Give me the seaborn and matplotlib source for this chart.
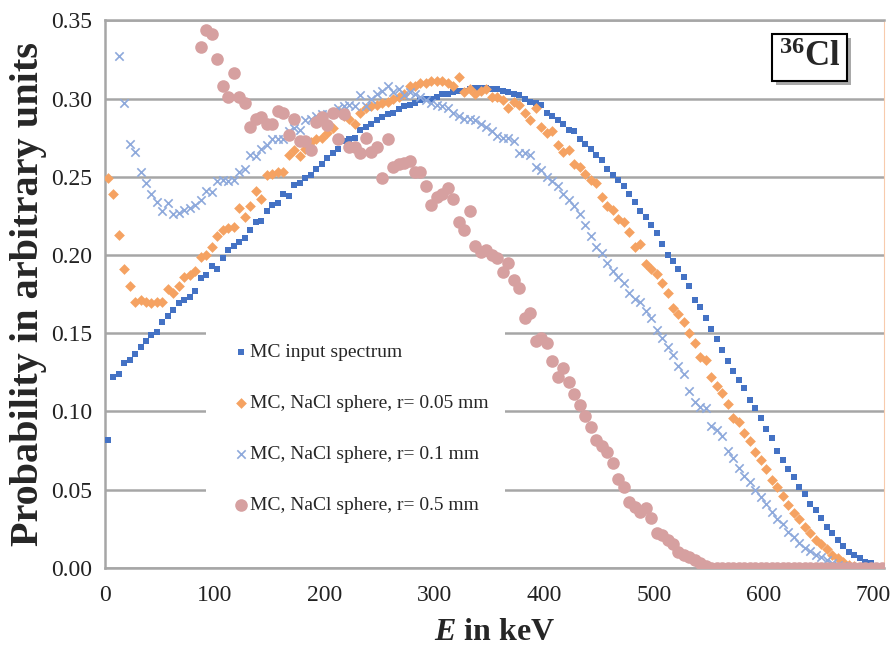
"""
36Cl beta spectrum: MC input vs. NaCl spheres of different radius
"""

# =============== IMPORTS ===============
import numpy as np
import matplotlib
matplotlib.use("Agg")
import matplotlib.pyplot as plt
import matplotlib.patheffects as pe
from matplotlib.patches import Rectangle
import seaborn as sns

nan = np.nan

# =============== DATA ===============
# bin centres in keV (5 keV bins)
energy = np.arange(2.5, 710, 5.0)

input_spectrum = [
    0.082, 0.122, 0.124, 0.131, 0.133, 0.137, 0.141, 0.145, 0.149, 0.151,
    0.157, 0.161, 0.165, 0.169, 0.171, 0.173, 0.177, 0.185, 0.187, 0.193,
    0.191, 0.198, 0.203, 0.206, 0.208, 0.211, 0.216, 0.221, 0.222, 0.228,
    0.232, 0.233, 0.239, 0.238, 0.245, 0.246, 0.249, 0.251, 0.255, 0.258,
    0.262, 0.265, 0.268, 0.273, 0.274, 0.275, 0.280, 0.282, 0.284, 0.286,
    0.288, 0.290, 0.291, 0.293, 0.295, 0.296, 0.297, 0.299, 0.300, 0.300,
    0.301, 0.303, 0.303, 0.304, 0.305, 0.305, 0.306, 0.307, 0.307, 0.307,
    0.306, 0.306, 0.305, 0.304, 0.303, 0.302, 0.300, 0.298, 0.297, 0.296,
    0.291, 0.289, 0.286, 0.284, 0.280, 0.279, 0.274, 0.271, 0.268, 0.264,
    0.261, 0.255, 0.251, 0.248, 0.244, 0.239, 0.234, 0.228, 0.224, 0.219,
    0.214, 0.207, 0.200, 0.196, 0.191, 0.186, 0.180, 0.171, 0.167, 0.160,
    0.153, 0.146, 0.139, 0.132, 0.126, 0.120, 0.115, 0.107, 0.102, 0.096,
    0.089, 0.083, 0.075, 0.069, 0.063, 0.058, 0.052, 0.047, 0.041, 0.037,
    0.032, 0.026, 0.022, 0.018, 0.014, 0.010, 0.008, 0.006, 0.004, 0.003,
    0.001, 0.000,
]

sphere_005mm = [
    0.249, 0.239, 0.213, 0.191, 0.180, 0.170, 0.171, 0.170, 0.169, 0.170,
    0.170, 0.178, 0.176, 0.180, 0.186, 0.187, 0.190, 0.199, 0.200, 0.205,
    0.212, 0.216, 0.217, 0.218, 0.230, 0.224, 0.231, 0.241, 0.236, 0.251,
    0.252, 0.253, 0.253, 0.264, 0.267, 0.263, 0.268, 0.272, 0.274, 0.275,
    0.278, 0.281, 0.292, 0.289, 0.287, 0.284, 0.291, 0.294, 0.295, 0.296,
    0.297, 0.298, 0.300, 0.301, 0.303, 0.308, 0.308, 0.310, 0.310, 0.311,
    0.311, 0.311, 0.310, 0.308, 0.314, 0.304, 0.306, 0.303, 0.305, 0.306,
    0.301, 0.301, 0.299, 0.294, 0.298, 0.296, 0.291, 0.286, 0.294, 0.282,
    0.278, 0.279, 0.270, 0.266, 0.267, 0.258, 0.256, 0.252, 0.248, 0.246,
    0.237, 0.231, 0.229, 0.223, 0.221, 0.215, 0.205, 0.207, 0.194, 0.191,
    0.188, 0.182, 0.176, 0.166, 0.162, 0.157, 0.150, 0.144, 0.135, 0.133,
    0.122, 0.116, 0.112, 0.105, 0.096, 0.093, 0.086, 0.081, 0.074, 0.069,
    0.063, 0.056, 0.052, 0.046, 0.040, 0.035, 0.031, 0.026, 0.022, 0.018,
    0.015, 0.012, 0.008, 0.006, 0.004, 0.002, 0.001, 0.000, 0.000, 0.000,
    0.000, 0.000,
]

sphere_01mm = [
    nan, nan, 0.327, 0.297, 0.271, 0.266, 0.253, 0.246, 0.239, 0.234,
    0.228, 0.233, 0.226, 0.227, 0.229, 0.230, 0.232, 0.235, 0.241, 0.240,
    0.247, 0.248, 0.247, 0.248, 0.253, 0.255, 0.264, 0.263, 0.268, 0.270,
    0.274, 0.274, 0.274, 0.279, 0.281, 0.280, 0.286, 0.287, 0.289, 0.290,
    0.290, 0.291, 0.294, 0.295, 0.296, 0.295, 0.302, 0.295, 0.300, 0.303,
    0.305, 0.308, 0.304, 0.306, 0.302, 0.304, 0.303, 0.301, 0.299, 0.297,
    0.296, 0.295, 0.294, 0.291, 0.289, 0.287, 0.287, 0.286, 0.284, 0.282,
    0.279, 0.276, 0.275, 0.275, 0.273, 0.265, 0.265, 0.264, 0.256, 0.254,
    0.250, 0.247, 0.244, 0.239, 0.235, 0.231, 0.226, 0.219, 0.212, 0.205,
    0.201, 0.195, 0.190, 0.186, 0.182, 0.176, 0.172, 0.170, 0.164, 0.160,
    0.152, 0.147, 0.141, 0.136, 0.129, 0.124, 0.113, 0.106, 0.103, 0.102,
    0.091, 0.088, 0.084, 0.075, 0.070, 0.064, 0.059, 0.055, 0.050, 0.045,
    0.041, 0.036, 0.031, 0.028, 0.023, 0.020, 0.016, 0.013, 0.011, 0.008,
    0.007, 0.005, 0.003, 0.002, 0.001, 0.000, 0.000, 0.000, 0.000, 0.000,
    0.000, 0.000,
]

sphere_05mm = [
    nan, nan, nan, nan, nan, nan, nan, nan, nan, nan,
    nan, nan, nan, nan, nan, nan, nan, 0.333, 0.344, 0.341,
    0.325, 0.308, 0.301, 0.316, 0.301, 0.297, 0.282, 0.287, 0.288, 0.284,
    0.284, 0.292, 0.291, 0.277, 0.287, 0.273, 0.273, 0.267, 0.285, 0.288,
    0.283, 0.291, 0.274, 0.290, 0.269, 0.269, 0.265, 0.275, 0.266, 0.269,
    0.249, 0.274, 0.256, 0.258, 0.259, 0.260, 0.253, 0.253, 0.244, 0.232,
    0.237, 0.239, 0.243, 0.236, 0.221, 0.216, 0.228, 0.206, 0.202, 0.203,
    0.200, 0.198, 0.189, 0.195, 0.184, 0.179, 0.160, 0.163, 0.145, 0.147,
    0.144, 0.132, 0.122, 0.128, 0.119, 0.111, 0.104, 0.097, 0.090, 0.082,
    0.078, 0.074, 0.067, 0.057, 0.052, 0.042, 0.039, 0.036, 0.038, 0.032,
    0.022, 0.021, 0.018, 0.015, 0.010, 0.008, 0.007, 0.005, 0.003, 0.001,
    0.000, 0.000, 0.000, 0.000, 0.000, 0.000, 0.000, 0.000, 0.000, 0.000,
    0.000, 0.000, 0.000, 0.000, 0.000, 0.000, 0.000, 0.000, 0.000, 0.000,
    0.000, 0.000, 0.000, 0.000, 0.000, 0.000, 0.000, 0.000, 0.000, 0.000,
    0.000, 0.000,
]

labels = [
    "MC input spectrum",
    "MC, NaCl sphere, r= 0.05 mm",
    "MC, NaCl sphere, r= 0.1 mm",
    "MC, NaCl sphere, r= 0.5 mm",
]

x_ticks = [0, 100, 200, 300, 400, 500, 600, 700]
y_ticks = [0.00, 0.05, 0.10, 0.15, 0.20, 0.25, 0.30, 0.35]

# =============== STYLE ===============
sns.set_theme(style="white")
plt.rcParams["font.family"] = ["Liberation Serif", "DejaVu Serif"]
plt.rcParams["mathtext.fontset"] = "custom"
plt.rcParams["mathtext.rm"] = "Liberation Serif"
plt.rcParams["mathtext.bf"] = "Liberation Serif:bold"
plt.rcParams["mathtext.bfit"] = "Liberation Serif:italic:bold"

GRID = "#A6A6A6"

fig = plt.figure(figsize=(8.96, 6.55), dpi=100)
ax = fig.add_axes([0.117, 0.133, 0.870, 0.836])

# =============== SCATTER ===============
sns.scatterplot(x=energy, y=input_spectrum, ax=ax, marker="s", s=18,
                color="#4472C4", linewidth=0, label=labels[0], zorder=3)
sns.scatterplot(x=energy, y=sphere_005mm, ax=ax, marker="D", s=30,
                color="#F5A262", linewidth=0, label=labels[1], zorder=3)
sns.scatterplot(x=energy, y=sphere_01mm, ax=ax, marker="x", s=36,
                color="#8EA9DB", linewidth=1.2, label=labels[2], zorder=3)
sns.scatterplot(x=energy, y=sphere_05mm, ax=ax, marker="o", s=82,
                color="#D6A0A0", linewidth=0, label=labels[3], zorder=3)

# =============== AXES ===============
ax.set_xlim(0, 710)
ax.set_ylim(0, 0.35)
ax.set_xticks(x_ticks)
ax.set_yticks(y_ticks)
ax.set_yticklabels([f"{v:.2f}" for v in y_ticks])
ax.tick_params(axis="both", labelsize=17, colors="#222222", length=5,
               width=1.2, color=GRID, direction="out", pad=4)
ax.tick_params(axis="x", pad=7)

ax.yaxis.grid(True, color=GRID, linewidth=1.8, zorder=0)
ax.set_axisbelow(True)
for side in ["left", "bottom", "top"]:
    ax.spines[side].set_color(GRID)
    ax.spines[side].set_linewidth(1.8)
ax.spines["right"].set_color("#F8CBAD")
ax.spines["right"].set_linewidth(0.8)

ax.set_ylabel("Probability in arbitrary units", fontsize=29,
              fontweight="bold", labelpad=3)
ax.set_xlabel(r"$\mathbfit{E}$ in keV", fontsize=23, fontweight="bold",
              labelpad=9)

# white block behind the legend (hides gridlines like the original)
ax.add_patch(Rectangle((0.1297, 0.0693), 0.3838, 0.3832,
                       transform=ax.transAxes, facecolor="white",
                       edgecolor="none", zorder=1.5))

leg = ax.legend(loc="upper left", bbox_to_anchor=(0.1669, 0.4106),
                frameon=False, fontsize=14, handlelength=0.6,
                handletextpad=0.2, labelspacing=1.73, borderpad=0,
                borderaxespad=0)
leg.set_zorder(5)

# isotope label box
t = ax.text(0.904, 0.932, r"$\mathbf{^{36}}$Cl", transform=ax.transAxes,
            fontsize=25, fontweight="bold", ha="center", va="center",
            bbox=dict(boxstyle="square,pad=0.2", facecolor="white",
                      edgecolor="black", linewidth=1.5), zorder=6)
t.get_bbox_patch().set_path_effects([
    pe.SimplePatchShadow(offset=(3, -3), shadow_rgbFace="#555555", alpha=0.5),
    pe.Normal(),
])

fig.savefig("out.png", dpi=100)
plt.close(fig)
print("saved out.png")
